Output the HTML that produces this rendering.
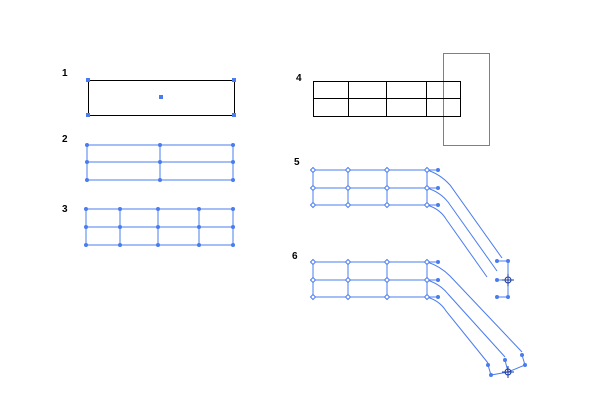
<!DOCTYPE html>
<html><head><style>body{margin:0;background:#fff}svg{display:block}</style></head><body>
<svg width="600" height="400" xmlns="http://www.w3.org/2000/svg" font-family="Liberation Sans, sans-serif">
<rect width="600" height="400" fill="#fff"/>
<g font-size="10" font-weight="bold" fill="#000">
<text x="62" y="76">1</text><text x="62" y="142">2</text><text x="62" y="212">3</text>
<text x="296" y="81">4</text><text x="294" y="165">5</text><text x="292" y="259">6</text>
</g>
<!-- 1 -->
<rect x="88.5" y="80.5" width="146" height="35" fill="none" stroke="#000" stroke-width="1"/>
<g fill="#4a7cf0"><rect x="86" y="78" width="4" height="4"/><rect x="232" y="78" width="4" height="4"/><rect x="86" y="113" width="4" height="4"/><rect x="232" y="113" width="4" height="4"/><rect x="159" y="95" width="4" height="4"/></g>
<!-- 2 -->
<g stroke="#4a7cf0" fill="none" stroke-width="1">
<path d="M87 145H233M87 162H233M87 180H233M87 145V180M160 145V180M233 145V180"/>
<path d="M86 209H233M86 227H233M86 245H233M86 209V245M120 209V245M158 209V245M199 209V245M233 209V245"/>
</g>
<g fill="#4a7cf0">
<circle cx="87" cy="145" r="2"/><circle cx="160" cy="145" r="2"/><circle cx="233" cy="145" r="2"/>
<circle cx="87" cy="162" r="2"/><circle cx="160" cy="162" r="2"/><circle cx="233" cy="162" r="2"/>
<circle cx="87" cy="180" r="2"/><circle cx="160" cy="180" r="2"/><circle cx="233" cy="180" r="2"/>
<g id="r3"><circle cx="86" cy="209" r="2"/><circle cx="120" cy="209" r="2"/><circle cx="158" cy="209" r="2"/><circle cx="199" cy="209" r="2"/><circle cx="233" cy="209" r="2"/></g>
<use href="#r3" y="18"/><use href="#r3" y="36"/>
</g>
<!-- 4 -->
<path d="M313.5 81.5H460.5V116.5H313.5ZM313.5 98.5H460.5M348.5 81.5V116.5M386.5 81.5V116.5M426.5 81.5V116.5" fill="none" stroke="#000" shape-rendering="crispEdges"/>
<rect x="443.5" y="53.5" width="46" height="92" fill="none" stroke="#000" stroke-dasharray="1,1" shape-rendering="crispEdges"/>
<!-- 5 -->
<g stroke="#4a7cf0" fill="none">
<path d="M313 170H427M313 188H427M313 205H427M313 170V205M348 170V205M387 170V205M427 170V205"/>
<path d="M427 170H438M427 188H438M427 205H438"/>
<path d="M427 170Q440 174 450 185L502 258"/>
<path d="M427 188Q440 192 448 202L497 271"/>
<path d="M427 205Q440 209 446 219L487 277"/>
<path d="M497 261H508V297H497M497 280H508"/>
<path d="M313 262H427M313 280H427M313 297H427M313 262V297M348 262V297M387 262V297M427 262V297"/>
<path d="M427 262H438M427 280H438M427 297H438"/>
<path d="M427 262Q440 266 450 276L522 352"/>
<path d="M427 280Q440 284 448 294L505 357"/>
<path d="M427 297Q440 301 446 311L488 363"/>
<path d="M488 365L491 375L508 372L525 365L522 355M505 360L508 372"/>
</g>
<g fill="#fff" stroke="#4a7cf0">
<g id="d5"><path d="M313 167.5l2.5 2.5-2.5 2.5-2.5-2.5z"/><path d="M348 167.5l2.5 2.5-2.5 2.5-2.5-2.5z"/><path d="M387 167.5l2.5 2.5-2.5 2.5-2.5-2.5z"/><path d="M427 167.5l2.5 2.5-2.5 2.5-2.5-2.5z"/></g>
<use href="#d5" y="18"/><use href="#d5" y="35"/><use href="#d5" y="92"/><use href="#d5" y="110"/><use href="#d5" y="127"/>
</g>
<g fill="#4a7cf0">
<circle cx="438" cy="170" r="2"/><circle cx="438" cy="188" r="2"/><circle cx="438" cy="205" r="2"/>
<circle cx="438" cy="262" r="2"/><circle cx="438" cy="280" r="2"/><circle cx="438" cy="297" r="2"/>
<circle cx="497" cy="261" r="2"/><circle cx="508" cy="261" r="2"/><circle cx="497" cy="280" r="2"/><circle cx="497" cy="297" r="2"/><circle cx="508" cy="297" r="2"/>
<circle cx="488" cy="365" r="2"/><circle cx="491" cy="375" r="2"/><circle cx="505" cy="360" r="2"/><circle cx="522" cy="355" r="2"/><circle cx="525" cy="365" r="2"/>
</g>
<g stroke="#1a3aa0" fill="none">
<circle cx="508" cy="280" r="3"/><path d="M502 280h12M508 274v12"/>
<circle cx="508" cy="372" r="3"/><path d="M502 372h12M508 366v12"/>
</g>
</svg>
</body></html>
